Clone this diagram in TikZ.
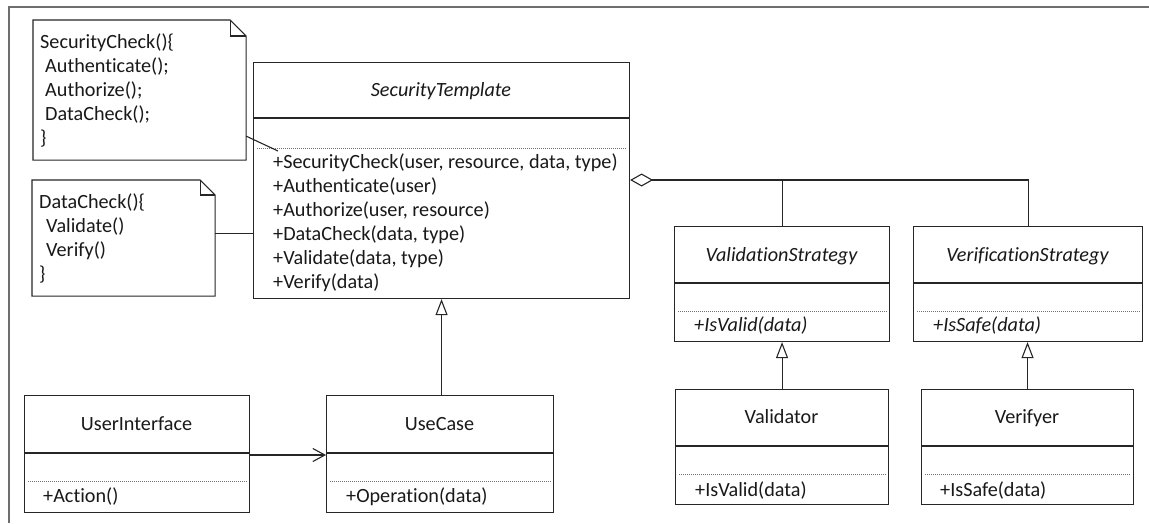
\documentclass[tikz,border=0pt]{standalone}
\usepackage{fontspec}
\setmainfont{Carlito}[Ligatures=NoCommon]
\usetikzlibrary{arrows.meta}
\definecolor{lc}{HTML}{262626}
\definecolor{fc}{HTML}{6E6E6E}
\newcommand\fs{\fontsize{20.2}{24}\selectfont}
\newcommand\classbox[8]{% name, x, y, w, h, header y, dotted y
  \node[box, minimum width=#4, minimum height=#5] (#1) at (#2,#3) {};
  \draw[sep] (#1.west |- 0,#6) -- (#1.east |- 0,#6);
  \draw[dotsep] (#1.west |- 0,#7) -- (#1.east |- 0,#7);
}
\newcommand\notebox[6]{% name, x, y, w, h, fold
  \node[box, draw=none, minimum width=#4, minimum height=#5] (#1) at (#2,#3) {};
  \draw[sep] (#1.north west) -- ([xshift=-#6pt]#1.north east) -- ([yshift=-#6pt]#1.north east)
     -- (#1.south east) -- (#1.south west) -- cycle;
  \draw[sep] ([xshift=-#6pt]#1.north east) |- ([yshift=-#6pt]#1.north east);
}
\begin{document}
\begin{tikzpicture}[x=1pt,y=-1pt,
  box/.style={draw=lc, line width=1.1pt, inner sep=0pt, anchor=north west},
  sep/.style={draw=lc, line width=1.1pt},
  dotsep/.style={draw=black!55, line width=0.7pt, dash pattern=on 1pt off 1pt, shorten <=4pt, shorten >=4pt},
  txt/.style={inner sep=0pt, anchor=base west, font=\fs, text=black!90},
  ttl/.style={inner sep=0pt, anchor=base, font=\fs, text=black!90},
  conn/.style={draw=lc, line width=1.1pt},
  frame/.style={draw=fc, line width=1.6pt}]
\useasboundingbox (0,0) rectangle (1149,523);
\fill[white] (0,0) rectangle (1149,523);
\draw[frame] (9,523) -- (9,7) -- (1149,7);

% notes
\notebox{nA}{33}{20}{212}{139}{16}
\node[txt] (nA1) at (40,48) {SecurityCheck()\{};
\node[txt] (nA2) at (45,72) {Authenticate();};
\node[txt] (nA3) at (45,96) {Authorize();};
\node[txt] (nA4) at (45,120) {DataCheck();};
\node[txt] (nA5) at (40,144) {\}};

\notebox{nB}{32}{180}{182}{115}{15}
\node[txt] (nB1) at (39,208) {DataCheck()\{};
\node[txt] (nB2) at (46,232) {Validate()};
\node[txt] (nB3) at (46,256) {Verify()};
\node[txt] (nB4) at (39,280) {\}};

% SecurityTemplate
\classbox{st}{253}{62}{376}{236}{118}{148}{}
\node[ttl] (stT) at (441,96) {\itshape SecurityTemplate};
\foreach \t [count=\i] in {{+SecurityCheck(user, resource, data, type)},{+Authenticate(user)},{+Authorize(user, resource)},{+DataCheck(data, type)},{+Validate(data, type)},{+Verify(data)}}
  {\node[txt] (stm\i) at (273,{168+24*(\i-1)}) {\t};}

% strategies
\classbox{vs}{674}{226}{215}{115}{283}{311}{}
\node[ttl] (vsT) at (781.5,261) {\itshape ValidationStrategy};
\node[txt] (vsM) at (694,331) {\itshape +IsValid(data)};

\classbox{vf}{913}{226}{229}{115}{283}{311}{}
\node[ttl] (vfT) at (1027.5,261) {\itshape VerificationStrategy};
\node[txt] (vfM) at (933,331) {\itshape +IsSafe(data)};

% concrete
\classbox{va}{675}{389}{213}{115}{446}{474}{}
\node[ttl] (vaT) at (781.5,423) {Validator};
\node[txt] (vaM) at (695,496) {+IsValid(data)};

\classbox{ve}{921}{389}{212}{115}{446}{474}{}
\node[ttl] (veT) at (1027,423) {Verifyer};
\node[txt] (veM) at (940,496) {+IsSafe(data)};

\classbox{ui}{24}{395}{225}{117}{453}{481}{}
\node[ttl] (uiT) at (136.5,430) {UserInterface};
\node[txt] (uiM) at (43,502) {+Action()};

\classbox{uc}{326}{395}{227}{117}{453}{481}{}
\node[ttl] (ucT) at (439.5,430) {UseCase};
\node[txt] (ucM) at (346,502) {+Operation(data)};

% connectors
\coordinate (nAend) at (278,151);
\draw[conn] ([yshift=24pt]nA.south east) -- (nAend);
\draw[conn] ([yshift=5pt]nB.east) -- ([yshift=5pt]nB.east -| st.west);

\coordinate (agg) at (st.east |- 0,180);
\draw[conn, {Diamond[open, length=23pt, width=13pt]}-] (agg) -| (vf.north);
\draw[conn] (vs.north) -- (vs.north |- agg);

\draw[conn, -{Triangle[open, length=16pt, width=12pt]}] (uc.north -| st.south) -- (st.south);
\draw[conn, -{Triangle[open, length=16pt, width=12pt]}] (va.north) -- (va.north |- vs.south);
\draw[conn, -{Triangle[open, length=16pt, width=12pt]}] (ve.north) -- (ve.north |- vf.south);
\draw[conn, -{Straight Barb[length=12pt, width=13pt]}] (ui.east |- 0,455) -- (uc.west |- 0,455);
\end{tikzpicture}
\end{document}
